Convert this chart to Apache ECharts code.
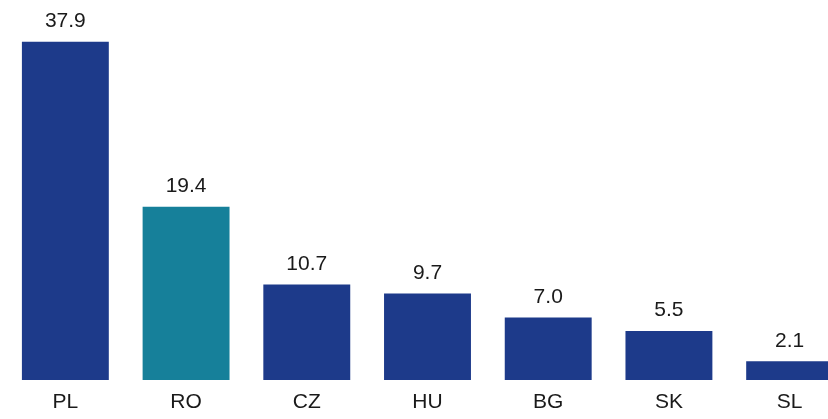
<!DOCTYPE html>
<html>
<head>
<meta charset="utf-8">
<script src="https://cdn.jsdelivr.net/npm/echarts@6/dist/echarts.min.js"></script>
<style>html,body{margin:0;padding:0;background:#fff;overflow:hidden}#c{width:850px;height:419px}</style>
</head>
<body>
<div id="c"></div>
<script>
const categories = ['PL', 'RO', 'CZ', 'HU', 'BG', 'SK', 'SL'];
const values = [37.9, 19.4, 10.7, 9.7, 7.0, 5.5, 2.1];
const highlight = 'RO';

const chart = echarts.init(document.getElementById('c'));
chart.setOption({
  animation: false,
  grid: { left: 5, right: 0, top: 23, bottom: 39 },
  xAxis: {
    type: 'category',
    data: categories,
    axisLine: { show: false },
    axisTick: { show: false },
    axisLabel: { color: '#1a1a1a', fontSize: 21, fontFamily: 'Liberation Sans, Arial, sans-serif', margin: 12 }
  },
  yAxis: { type: 'value', min: 0, max: 40, show: false, splitLine: { show: false } },
  series: [{
    type: 'bar',
    barCategoryGap: '28%',
    data: values.map((v, i) => ({
      value: v,
      itemStyle: { color: categories[i] === highlight ? '#16809a' : '#1d3a8a' }
    })),
    label: {
      show: true, position: 'top', distance: 10,
      formatter: p => p.value.toFixed(1),
      color: '#1a1a1a', fontSize: 21, fontFamily: 'Liberation Sans, Arial, sans-serif'
    }
  }]
});
</script>
</body>
</html>
